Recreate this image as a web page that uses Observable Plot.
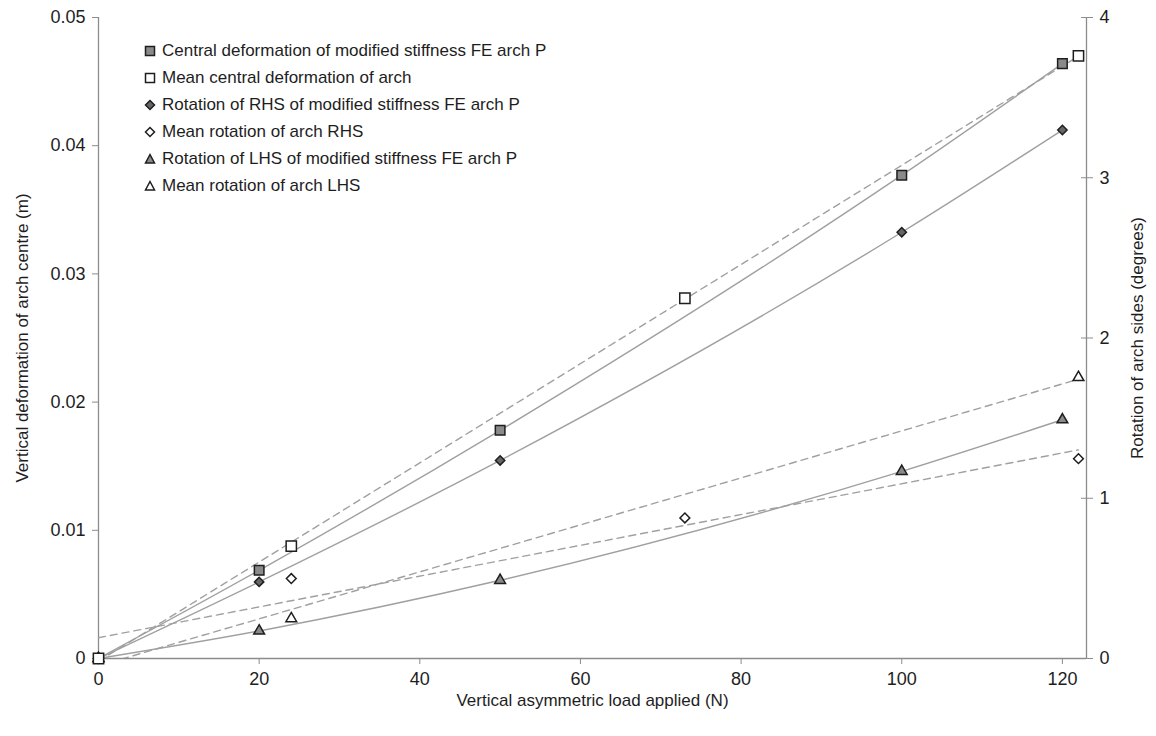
<!DOCTYPE html>
<html><head><meta charset="utf-8">
<script src="https://cdn.jsdelivr.net/npm/d3@7"></script>
<script src="https://cdn.jsdelivr.net/npm/@observablehq/plot@0.6"></script>
<style>
body{margin:0;background:#fff;font-family:"Liberation Sans",Arial,sans-serif;}
#wrap{position:relative;width:1156px;height:736px;overflow:hidden;}
#chart{position:absolute;left:0;top:0;}
#right{position:absolute;left:-6px;top:0;pointer-events:none;}
#legend{position:absolute;left:143px;top:37px;font-size:17px;color:#1e1e1e;}
.row{height:27.1px;display:flex;align-items:center;white-space:nowrap;}
.row svg{margin-right:5px;flex:none}
svg [aria-label*="axis"] line, svg [aria-label*="axis"] path{stroke:#8c8c8c;}
</style></head><body><div id="wrap"><div id="chart"></div><div id="right"></div><div id="legend"></div></div>
<script>
// ---- data ----
const loadFE = [0, 20, 50, 100, 120];
const centralFE = [0, 0.00688, 0.0178, 0.0377, 0.0464];
const rotRHSFE = [0, 0.478, 1.236, 2.66, 3.298];
const rotLHSFE = [0, 0.172, 0.488, 1.168, 1.49];

const loadMeanCentral = [0, 24, 73, 122];
const centralMean = [0, 0.00877, 0.0281, 0.0470];
const loadMeanRHS = [0, 24, 73, 122];
const rotRHSMean = [0, 0.499, 0.877, 1.247];
const loadMeanLHS = [0, 24, 122];
const rotLHSMean = [0, 0.249, 1.754];

const xTicks = [0, 20, 40, 60, 80, 100, 120];
const yLeftTicks = [0, 0.01, 0.02, 0.03, 0.04, 0.05];
const yRightTicks = [0, 1, 2, 3, 4];
const xDomain = [0, 123];
const yLeftDomain = [0, 0.05];
const yRightDomain = [0, 4];

const seriesNames = [
  "Central deformation of modified stiffness FE arch P",
  "Mean central deformation of arch",
  "Rotation of RHS of modified stiffness FE arch P",
  "Mean rotation of arch RHS",
  "Rotation of LHS of modified stiffness FE arch P",
  "Mean rotation of arch LHS"
];
const xLabel = "Vertical asymmetric load applied (N)";
const yLeftLabel = "Vertical deformation of arch centre (m)";
const yRightLabel = "Rotation of arch sides (degrees)";

// ---- build tables ----
const k = yLeftDomain[1] / yRightDomain[1]; // degrees -> left-axis units
const tbl = (xs, ys, f = 1) => xs.map((x, i) => ({x, y: ys[i] * f}));
const feC = tbl(loadFE, centralFE);
const mC = tbl(loadMeanCentral, centralMean);
const feR = tbl(loadFE, rotRHSFE, k);
const mR = tbl(loadMeanRHS, rotRHSMean, k);
const feL = tbl(loadFE, rotLHSFE, k);
const mL = tbl(loadMeanLHS, rotLHSMean, k);

const axisGray = "#8c8c8c";
const lineGray = "#a0a0a0";
const ink = "#1e1e1e";
const filled = "#8a8a8a";
const font = "'Liberation Sans', Arial, sans-serif";

const styles = [
  {symbol: "square", r: 5.4, fill: filled},
  {symbol: "square", r: 5.8, fill: "white"},
  {symbol: "diamond2", r: 4.2, fill: "#666"},
  {symbol: "diamond2", r: 4.4, fill: "white"},
  {symbol: "triangle", r: 4.0, fill: filled},
  {symbol: "triangle", r: 4.0, fill: "white"}
];
const dotsFor = (d, s) => Plot.dot(d, {x: "x", y: "y", symbol: s.symbol, r: s.r, fill: s.fill, stroke: ink, strokeWidth: 1.5});
const solid = d => Plot.line(d, {x: "x", y: "y", curve: "monotone-x", stroke: lineGray, strokeWidth: 1.4});
const dashed = d => Plot.linearRegressionY(d, {x: "x", y: "y", ci: 0, stroke: lineGray, strokeWidth: 1.4, strokeDasharray: "7,5", clip: true});

const common = {
  width: 1156, height: 736,
  marginLeft: 98, marginRight: 70, marginTop: 17, marginBottom: 78,
};
const title = {fontSize: 17, fill: ink, textAnchor: "middle", lineAnchor: "middle"};

const chart = Plot.plot({
  ...common,
  style: {fontFamily: font, fontSize: "18px", background: "white", color: ink},
  x: {domain: xDomain, ticks: xTicks, tickSize: 6, tickPadding: 8, label: null},
  y: {domain: yLeftDomain, ticks: yLeftTicks, tickSize: 6, tickPadding: 7, label: null,
      tickFormat: d => d === 0 ? "0" : d.toFixed(2)},
  marks: [
    Plot.ruleX(xDomain, {stroke: axisGray, strokeWidth: 1.3}),
    Plot.ruleY(yLeftDomain.slice(0, 1), {stroke: axisGray, strokeWidth: 1.3}),
    Plot.text([xLabel], {...title, frameAnchor: "bottom", dy: 42}),
    Plot.text([yLeftLabel], {...title, frameAnchor: "left", dx: -76, rotate: -90}),
    Plot.text([yRightLabel], {...title, frameAnchor: "right", dx: 51, rotate: -90}),
    dashed(mC), dashed(mR), dashed(mL),
    solid(feC), solid(feR), solid(feL),
    dotsFor(feL, styles[4]), dotsFor(mL, styles[5]),
    dotsFor(feR, styles[2]), dotsFor(mR, styles[3]),
    dotsFor(feC, styles[0]), dotsFor(mC, styles[1])
  ]
});
document.getElementById("chart").appendChild(chart);

// ---- right-hand axis (degrees), overlaid; ticks cross the axis line ----
const right = Plot.plot({
  ...common,
  style: {fontFamily: font, fontSize: "18px", background: "transparent", color: ink},
  x: {domain: xDomain, axis: null},
  y: {domain: yRightDomain, axis: "right", ticks: yRightTicks, tickSize: 12, tickPadding: 7, label: null,
      tickFormat: d => String(d)},
  marks: [Plot.ruleY(yRightDomain, {strokeOpacity: 0})]
});
document.getElementById("right").appendChild(right);

// ---- legend (inside the plot area, top-left) ----
const shapes = {
  square: (f) => `<rect x="2.5" y="2.5" width="9" height="9" fill="${f}" stroke="${ink}" stroke-width="1.5"/>`,
  diamond2: (f) => `<path d="M7 2.5 L11.5 7 L7 11.5 L2.5 7 Z" fill="${f}" stroke="${ink}" stroke-width="1.5"/>`,
  triangle: (f) => `<path d="M7 2.5 L11.5 11 L2.5 11 Z" fill="${f}" stroke="${ink}" stroke-width="1.5"/>`
};
const legend = document.getElementById("legend");
seriesNames.forEach((name, i) => {
  const s = styles[i];
  const row = document.createElement("div");
  row.className = "row";
  row.innerHTML = `<svg width="14" height="14">${shapes[s.symbol](s.fill)}</svg><span>${name}</span>`;
  legend.appendChild(row);
});
</script>
</body></html>
